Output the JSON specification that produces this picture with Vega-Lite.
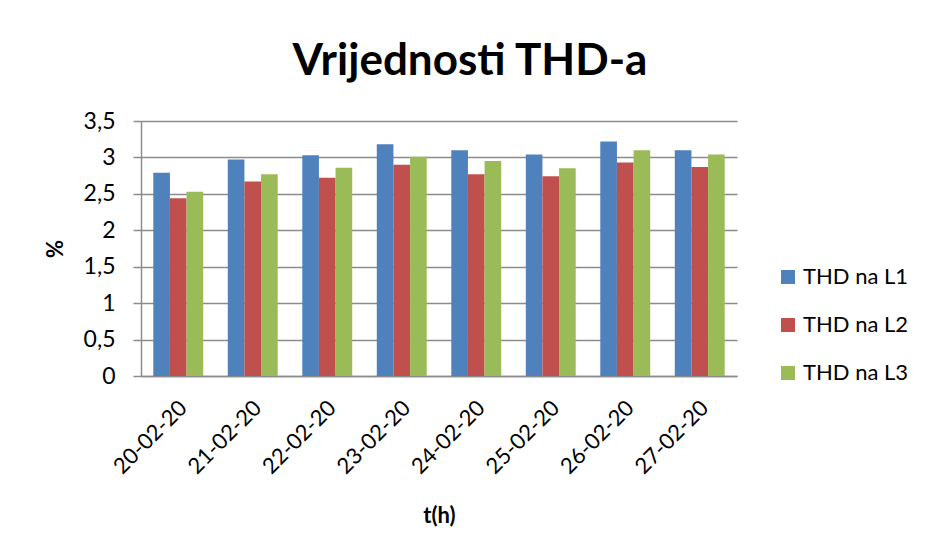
{
  "$schema": "https://vega.github.io/schema/vega-lite/v6.json",
  "width": 596,
  "height": 255,
  "autosize": {"type": "none"},
  "padding": {"left": 141, "top": 121, "right": 188, "bottom": 178},
  "background": "white",
  "title": {
    "text": "Vrijednosti THD-a",
    "font": "Lato",
    "fontSize": 44,
    "fontWeight": "bold",
    "color": "black",
    "anchor": "middle",
    "dx": 31,
    "offset": 26
  },
  "data": {
    "values": [
      {"date": "20-02-20", "series": "THD na L1", "value": 2.79},
      {"date": "20-02-20", "series": "THD na L2", "value": 2.44},
      {"date": "20-02-20", "series": "THD na L3", "value": 2.53},
      {"date": "21-02-20", "series": "THD na L1", "value": 2.97},
      {"date": "21-02-20", "series": "THD na L2", "value": 2.67},
      {"date": "21-02-20", "series": "THD na L3", "value": 2.77},
      {"date": "22-02-20", "series": "THD na L1", "value": 3.03},
      {"date": "22-02-20", "series": "THD na L2", "value": 2.72},
      {"date": "22-02-20", "series": "THD na L3", "value": 2.86},
      {"date": "23-02-20", "series": "THD na L1", "value": 3.18},
      {"date": "23-02-20", "series": "THD na L2", "value": 2.9},
      {"date": "23-02-20", "series": "THD na L3", "value": 3.01},
      {"date": "24-02-20", "series": "THD na L1", "value": 3.1},
      {"date": "24-02-20", "series": "THD na L2", "value": 2.77},
      {"date": "24-02-20", "series": "THD na L3", "value": 2.95},
      {"date": "25-02-20", "series": "THD na L1", "value": 3.04},
      {"date": "25-02-20", "series": "THD na L2", "value": 2.74},
      {"date": "25-02-20", "series": "THD na L3", "value": 2.85},
      {"date": "26-02-20", "series": "THD na L1", "value": 3.22},
      {"date": "26-02-20", "series": "THD na L2", "value": 2.93},
      {"date": "26-02-20", "series": "THD na L3", "value": 3.1},
      {"date": "27-02-20", "series": "THD na L1", "value": 3.1},
      {"date": "27-02-20", "series": "THD na L2", "value": 2.87},
      {"date": "27-02-20", "series": "THD na L3", "value": 3.04}
    ]
  },
  "mark": {"type": "bar"},
  "encoding": {
    "x": {
      "field": "date",
      "type": "nominal",
      "scale": {"paddingInner": 0.33, "paddingOuter": 0.165},
      "axis": {
        "title": "t(h)",
        "titleFont": "Lato",
        "titleFontSize": 22,
        "titleFontWeight": "bold",
        "titleColor": "black",
        "titlePadding": 28,
        "labelAngle": -45,
        "labelAlign": "right",
        "labelBaseline": "middle",
        "labelFont": "Lato",
        "labelFontSize": 22,
        "labelColor": "black",
        "labelPadding": 28,
        "labelOffset": 5,
        "ticks": false,
        "domainColor": "#8c8c8c",
        "domainWidth": 1.5,
        "grid": false
      }
    },
    "xOffset": {"field": "series", "type": "nominal"},
    "y": {
      "field": "value",
      "type": "quantitative",
      "scale": {"domain": [0, 3.5], "nice": false},
      "axis": {
        "title": "%",
        "titleFont": "Lato",
        "titleFontSize": 22,
        "titleFontWeight": "bold",
        "titleColor": "black",
        "titlePadding": 16,
        "values": [0, 0.5, 1, 1.5, 2, 2.5, 3, 3.5],
        "labelExpr": "replace(format(datum.value, '~g'), '.', ',')",
        "labelFont": "Lato",
        "labelFontSize": 23,
        "labelColor": "black",
        "labelPadding": 18,
        "tickSize": 8,
        "tickColor": "#8c8c8c",
        "tickWidth": 1.5,
        "domainColor": "#8c8c8c",
        "domainWidth": 1.5,
        "grid": true,
        "gridColor": "#8c8c8c",
        "gridWidth": 1.5
      }
    },
    "color": {
      "field": "series",
      "type": "nominal",
      "scale": {"range": ["#4F81BD", "#C0504D", "#9BBB59"]},
      "legend": {
        "orient": "none",
        "legendX": 636,
        "legendY": 145,
        "title": null,
        "symbolType": "square",
        "symbolSize": 196,
        "symbolStrokeWidth": 0,
        "labelFont": "Lato",
        "labelFontSize": 22,
        "labelColor": "black",
        "labelOffset": 4,
        "rowPadding": 26
      }
    }
  },
  "config": {"view": {"stroke": null}}
}
